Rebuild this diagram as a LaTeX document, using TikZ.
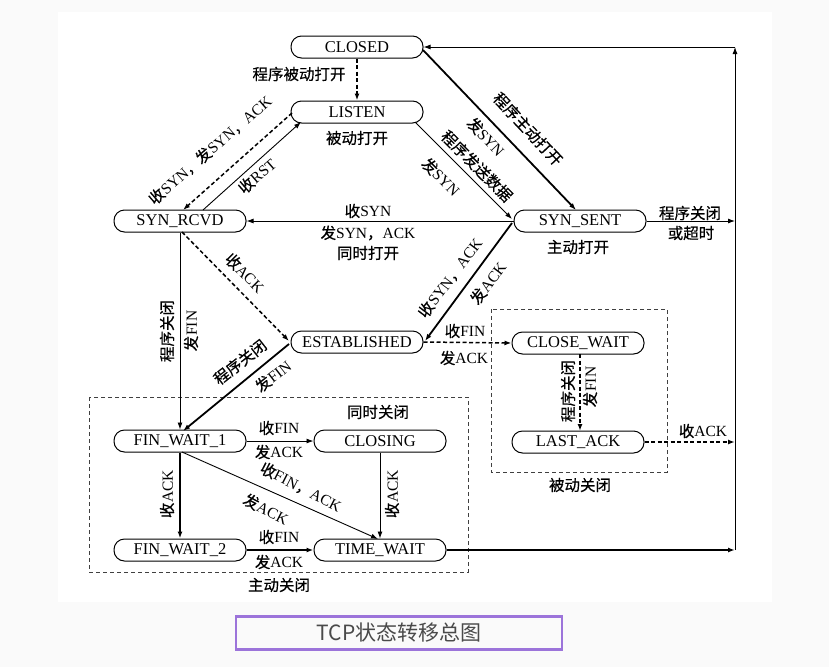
\documentclass[tikz,border=0pt]{standalone}
\usepackage{fontspec}
\setmainfont{Liberation Serif}
\newfontfamily\cjk{Noto Sans CJK SC}[FakeBold=0.5]
\newfontfamily\capcjk{Noto Sans CJK SC}
\usetikzlibrary{arrows.meta}
\newcommand\zh[1]{{\cjk #1}}
\definecolor{capline}{HTML}{9C74DA}
\definecolor{captext}{HTML}{4A4A4A}
\begin{document}
\begin{tikzpicture}[x=1pt,y=-1pt,
  state/.style={draw, line width=1pt, rounded corners=10.5pt, minimum width=132pt,
    minimum height=22pt, inner sep=0pt, font=\fontsize{16.5}{17}\selectfont},
  lab/.style={font=\fontsize{15.5}{17}\selectfont, inner sep=0pt},
  tip/.style={-{Latex[length=7pt,width=5pt]}},
  ln/.style={tip, line width=0.9pt},
  lnb/.style={tip, line width=1.8pt},
  dsh/.style={tip, line width=1.5pt, dash pattern=on 4pt off 2.5pt},
  grp/.style={draw=black!75, line width=0.9pt, dash pattern=on 4pt off 3pt}]
\useasboundingbox (0,0) rectangle (829,667);
\fill[black!2] (0,0) rectangle (829,667);
\fill[white] (58,12) rectangle (772,602);

% groups
\draw[grp] (89,397) rectangle (468,572);
\draw[grp] (491,309) rectangle (667,472);

% states
\node[state] (closed) at (357,47) {CLOSED};
\node[state] (listen) at (357,112) {LISTEN};
\node[state] (rcvd) at (180,221) {SYN\_RCVD};
\node[state] (sent) at (580,221) {SYN\_SENT};
\node[state] (est) at (357,342) {ESTABLISHED};
\node[state] (cw) at (578,343) {CLOSE\_WAIT};
\node[state] (la) at (578,442) {LAST\_ACK};
\node[state] (fw1) at (180,441) {FIN\_WAIT\_1};
\node[state] (cls) at (380,441) {CLOSING};
\node[state] (fw2) at (180,550) {FIN\_WAIT\_2};
\node[state] (tw) at (380,550) {TIME\_WAIT};

\coordinate (tr) at (735,47);
\coordinate (br) at (735,550);
\coordinate (rs) at (735,221);
\coordinate (rl) at (735,442);

% connectors
\draw[dsh] (closed.south) -- (listen.north);
\draw[dsh] ([shift={(-65,1)}]listen.center) -- ([shift={(3,-11)}]rcvd.center);
\draw[ln] ([shift={(23,-11)}]rcvd.center) -- ([shift={(-56,10)}]listen.center);
\draw[ln] ([shift={(58,10)}]listen.center) -- ([shift={(-68,-2)}]sent.center);
\draw[lnb] ([shift={(66,3)}]closed.center) -- ([shift={(-4,-11)}]sent.center);
\draw[ln] (sent.west) -- (rcvd.east);
\draw[lnb] ([shift={(-68,2)}]sent.center) -- ([shift={(68,-1)}]est.center);
\draw[dsh] ([shift={(2,11)}]rcvd.center) -- ([shift={(-68,-1)}]est.center);
\draw[ln] (rcvd.south) -- (fw1.north);
\draw[lnb] ([shift={(-68,2)}]est.center) -- ([shift={(3,-10)}]fw1.center);
\draw[dsh] (est.east) -- (cw.west);
\draw[dsh] ([shift={(2,11)}]cw.center) -- ([shift={(2,-11)}]la.center);
\draw[dsh] (la.east) -- (rl);
\draw[ln] (fw1.east) -- (cls.west);
\draw[ln] ([shift={(2,11)}]fw1.center) -- ([shift={(-2,-11)}]tw.center);
\draw[lnb] (fw1.south) -- (fw2.north);
\draw[ln] (cls.south) -- (tw.north);
\draw[lnb] (fw2.east) -- (tw.west);
\draw[lnb] (tw.east) -- (br);
\draw[ln] (br) -- (tr);
\draw[ln] (tr) -- (closed.east);
\draw[ln] (sent.east) -- (rs);

% labels
\node[lab] (l1) at (299,74) {\zh{程序被动打开}};
\node[lab, rotate=41] (l2) at (210,150) {\zh{收}SYN\zh{，发}SYN\zh{，}ACK};
\node[lab, rotate=41] (l3) at (257,176) {\zh{收}RST};
\node[lab] (l4) at (357,138) {\zh{被动打开}};
\node[lab, rotate=-47] (l5) at (528,129) {\zh{程序主动打开}};
\node[lab, rotate=-47] (l6) at (486,137) {\zh{发}SYN};
\node[lab, rotate=-45] (l7) at (477,166) {\zh{程序发送数据}};
\node[lab, rotate=-45] (l8) at (441,177) {\zh{发}SYN};
\node[lab] (l9) at (368,211) {\zh{收}SYN};
\node[lab] (l10) at (368,233) {\zh{发}SYN\zh{，}ACK};
\node[lab] (l11) at (368,253) {\zh{同时打开}};
\node[lab] (l12) at (578,247) {\zh{主动打开}};
\node[lab] (l13) at (690,213) {\zh{程序关闭}};
\node[lab] (l14) at (691,233) {\zh{或超时}};
\node[lab, rotate=-45] (l15) at (245,273) {\zh{收}ACK};
\node[lab, rotate=53] (l16) at (450,278) {\zh{收}SYN\zh{，}ACK};
\node[lab, rotate=53] (l17) at (488,283) {\zh{发}ACK};
\node[lab, rotate=90] (l18) at (167,331) {\zh{程序关闭}};
\node[lab, rotate=90] (l19) at (191,331) {\zh{发}FIN};
\node[lab, rotate=38] (l20) at (240,362) {\zh{程序关闭}};
\node[lab, rotate=38] (l21) at (273,376) {\zh{发}FIN};
\node[lab] (l22) at (465,331) {\zh{收}FIN};
\node[lab] (l23) at (464,358) {\zh{发}ACK};
\node[lab, rotate=90] (l24) at (568,391) {\zh{程序关闭}};
\node[lab, rotate=90] (l25) at (590,387) {\zh{发}FIN};
\node[lab] (l26) at (703,431) {\zh{收}ACK};
\node[lab] (l27) at (580,485) {\zh{被动关闭}};
\node[lab] (l28) at (378,412) {\zh{同时关闭}};
\node[lab] (l29) at (279,428) {\zh{收}FIN};
\node[lab] (l30) at (279,452) {\zh{发}ACK};
\node[lab, rotate=90] (l31) at (167,494) {\zh{收}ACK};
\node[lab, rotate=90] (l32) at (392,494) {\zh{收}ACK};
\node[lab, rotate=-27] (l33) at (301,487) {\zh{收}FIN\zh{，}ACK};
\node[lab, rotate=-27] (l34) at (266,509) {\zh{发}ACK};
\node[lab] (l35) at (279,537) {\zh{收}FIN};
\node[lab] (l36) at (279,562) {\zh{发}ACK};
\node[lab] (l37) at (279,585) {\zh{主动关闭}};

% caption
\node[draw=capline, line width=2.5pt, minimum width=326pt, minimum height=33pt,
  inner sep=0pt, text=captext, font=\capcjk\fontsize{21}{22}\selectfont] (cap) at (399,633) {TCP状态转移总图};
\end{tikzpicture}
\end{document}
